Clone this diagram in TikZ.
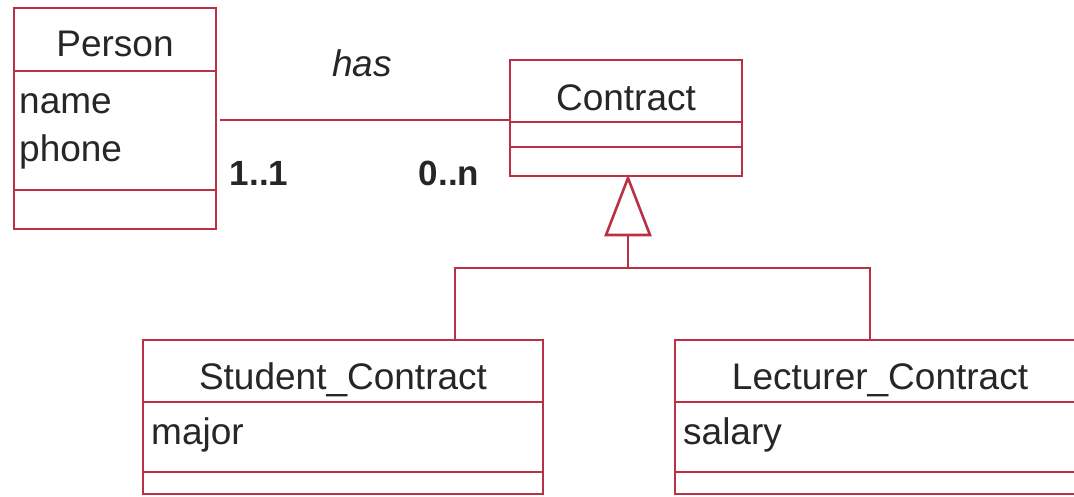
\documentclass[tikz,border=0pt]{standalone}
\usepackage{fontspec}
\setmainfont{Liberation Sans}
\begin{document}
\begin{tikzpicture}[x=1pt,y=-1pt,
  umlline/.style={draw=umlred,line width=2.6pt},
  classbox/.style={umlline,fill=none,inner sep=0pt,outer sep=0pt,anchor=north west},
  lbl/.style={inner sep=0pt,anchor=base,font=\fontsize{37}{44}\selectfont,text=black!85},
  attr/.style={lbl,anchor=base west},
  mult/.style={lbl,font=\fontsize{35}{42}\selectfont\bfseries}]
\definecolor{umlred}{RGB}{186,48,68}
\useasboundingbox (0,0) rectangle (1074,496);
% class boxes
\node[classbox,minimum width=202pt,minimum height=221pt] (person) at (14,8) {};
\node[classbox,minimum width=232pt,minimum height=116pt] (contract) at (510,60) {};
\node[classbox,minimum width=400pt,minimum height=154pt] (student) at (143,340) {};
\node[classbox,minimum width=420pt,minimum height=154pt] (lecturer) at (675,340) {};
% compartment separators
\draw[umlline] (14,71) -- (216,71) (14,190) -- (216,190);
\draw[umlline] (510,122) -- (742,122) (510,147) -- (742,147);
\draw[umlline] (143,402) -- (543,402) (143,472) -- (543,472);
\draw[umlline] (675,402) -- (1095,402) (675,472) -- (1095,472);
% class names and attributes
\node[lbl] (personname) at (115,56) {Person};
\node[attr] (pname) at (19,113) {name};
\node[attr] (pphone) at (19,161) {phone};
\node[lbl] (contractname) at (626,110) {Contract};
\node[lbl] (studentname) at (343,389) {Student\_Contract};
\node[attr] (smajor) at (151,444) {major};
\node[lbl] (lecturername) at (880,389) {Lecturer\_Contract};
\node[attr] (lsalary) at (683,444) {salary};
% association
\coordinate (assocstart) at (220,120);
\draw[umlline] (assocstart) -- (contract.west |- assocstart);
\node[lbl,font=\fontsize{37}{44}\selectfont\itshape] (has) at (362,76) {has};
\node[mult] (m11) at (259,185) {1..1};
\node[mult] (m0n) at (449,185) {0..n};
% generalization
\coordinate (apex) at (628,178);
\coordinate (base) at (628,235);
\coordinate (bus) at (628,268);
\draw[umlline,fill=white,line join=miter] (apex) -- (650,235) -- (606,235) -- cycle;
\draw[umlline] (base) -- (bus);
\draw[umlline] (student.north -| 455,0) |- (bus) -| (lecturer.north -| 870,0);
\end{tikzpicture}
\end{document}
